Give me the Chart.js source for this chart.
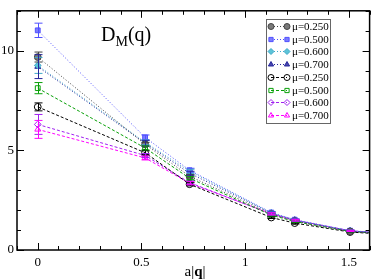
<!DOCTYPE html>
<html>
<head>
<meta charset="utf-8">
<script src="https://cdn.jsdelivr.net/npm/chart.js@4/dist/chart.umd.min.js"></script>
<style>
  html, body { margin: 0; padding: 0; background: #fff; }
  #wrap { width: 374px; height: 280px; }
</style>
</head>
<body>
<div id="wrap"><canvas id="c" width="374" height="280"></canvas></div>
<script>
// D_M(q) vs a|q|

// ==================== DATA ====================
const qValues = [0, 0.5176, 0.732, 1.126, 1.239, 1.506, 1.732];
const xTicks = [0, 0.5, 1, 1.5];
const yTicks = [0, 5, 10];
const labels = ['μ=0.250', 'μ=0.500', 'μ=0.600', 'μ=0.700', 'μ=0.250', 'μ=0.500', 'μ=0.600', 'μ=0.700'];

const filled250 = [9.68, 5.30, 3.70, 1.80, 1.45, 0.93, 0.78];
const filled500 = [11.02, 5.65, 4.00, 1.88, 1.52, 0.97, 0.80];
const filled600 = [9.26, 5.40, 3.95, 1.86, 1.50, 0.96, 0.80];
const filled700 = [9.20, 5.36, 3.85, 1.85, 1.50, 0.96, 0.80];
const open250 = [7.18, 4.88, 3.30, 1.63, 1.35, 0.90, 0.75];
const open500 = [8.12, 5.12, 3.60, 1.75, 1.43, 0.93, 0.78];
const open600 = [6.30, 4.74, 3.38, 1.80, 1.48, 0.95, 0.80];
const open700 = [6.05, 4.62, 3.35, 1.82, 1.50, 0.96, 0.80];

const err250f = [0.25, 0.10, 0.08, 0.05, 0.04, 0.03, 0.03];
const err500f = [0.36, 0.12, 0.10, 0.05, 0.04, 0.03, 0.03];
const err600f = [0.40, 0.12, 0.10, 0.05, 0.04, 0.03, 0.03];
const err700f = [0.60, 0.14, 0.10, 0.05, 0.04, 0.03, 0.03];
const err250o = [0.20, 0.10, 0.08, 0.05, 0.04, 0.03, 0.03];
const err500o = [0.28, 0.10, 0.08, 0.05, 0.04, 0.03, 0.03];
const err600o = [0.50, 0.10, 0.08, 0.05, 0.04, 0.03, 0.03];
const err700o = [0.45, 0.10, 0.08, 0.05, 0.04, 0.03, 0.03];

const SERIF = '"Liberation Serif", "DejaVu Serif", serif';

function pts(vals, errs) {
    return vals.map((v, i) => ({ x: qValues[i], y: v, e: errs[i] }));
}

function series(label, vals, errs, style, line, fill, dash) {
    return {
        label, data: pts(vals, errs),
        borderColor: line, backgroundColor: fill,
        pointStyle: style, pointRadius: 3.4, pointHoverRadius: 3.4,
        pointBorderColor: line, pointBackgroundColor: fill, pointBorderWidth: 1,
        borderWidth: 1, borderDash: dash, tension: 0, fill: false
    };
}

const DOT = [1, 2];
const DASH = [3, 2];
const datasets = [
    series(labels[0], filled250, err250f, 'circle', '#444444', '#7a7a7a', DOT),
    series(labels[1], filled500, err500f, 'rect', '#5050ff', '#7c7cff', DOT),
    series(labels[2], filled600, err600f, 'rectRot', '#3fa8c8', '#5cc4d8', DOT),
    series(labels[3], filled700, err700f, 'triangle', '#26269a', '#4848b0', DOT),
    series(labels[4], open250, err250o, 'circle', '#000000', 'rgba(255,255,255,0)', DASH),
    series(labels[5], open500, err500o, 'rect', '#08a008', 'rgba(255,255,255,0)', DASH),
    series(labels[6], open600, err600o, 'rectRot', '#a020f0', 'rgba(255,255,255,0)', DASH),
    series(labels[7], open700, err700o, 'triangle', '#ff00ff', 'rgba(255,255,255,0)', DASH)
];

// ==================== PLUGIN: error bars, frame, ticks, titles, legend ====================
const decorations = {
    id: 'decorations',
    afterDatasetsDraw(chart) {
        const { ctx, chartArea: a, scales: { x, y } } = chart;
        ctx.save();
        ctx.beginPath(); ctx.rect(a.left, a.top, a.right - a.left, a.bottom - a.top); ctx.clip();
        ctx.lineWidth = 1;
        chart.data.datasets.forEach(ds => {
            ctx.strokeStyle = ds.borderColor;
            ds.data.forEach(p => {
                if (!p.e) return;
                const px = Math.round(x.getPixelForValue(p.x)) + 0.5;
                const y1 = y.getPixelForValue(p.y - p.e), y2 = y.getPixelForValue(p.y + p.e);
                ctx.beginPath();
                ctx.moveTo(px, y1); ctx.lineTo(px, y2);
                ctx.moveTo(px - 4, y1); ctx.lineTo(px + 4, y1);
                ctx.moveTo(px - 4, y2); ctx.lineTo(px + 4, y2);
                ctx.stroke();
            });
        });
        ctx.restore();
    },
    afterDraw(chart) {
        const { ctx, chartArea: a, scales: { x, y } } = chart;
        ctx.save();
        ctx.strokeStyle = '#000';
        ctx.lineWidth = 1;
        // minor + major ticks, all four sides
        for (let v = -0.1; v <= 1.6 + 1e-9; v += 0.1) {
            const px = Math.round(x.getPixelForValue(v)) + 0.5;
            const major = Math.abs(v * 2 - Math.round(v * 2)) < 1e-6;
            const len = major ? 7 : 4;
            ctx.beginPath();
            ctx.moveTo(px, a.bottom); ctx.lineTo(px, a.bottom - len);
            ctx.moveTo(px, a.top); ctx.lineTo(px, a.top + len);
            ctx.stroke();
        }
        for (let v = 0; v <= 12; v += 1) {
            const py = Math.round(y.getPixelForValue(v)) + 0.5;
            const len = v % 5 === 0 ? 7 : 4;
            ctx.beginPath();
            ctx.moveTo(a.left, py); ctx.lineTo(a.left + len, py);
            ctx.moveTo(a.right, py); ctx.lineTo(a.right - len, py);
            ctx.stroke();
        }
        // frame
        ctx.lineWidth = 1.5;
        ctx.strokeRect(a.left, a.top, a.right - a.left, a.bottom - a.top);

        // title D_M(q)
        ctx.fillStyle = '#000';
        ctx.textBaseline = 'alphabetic';
        ctx.textAlign = 'left';
        let tx = 101;
        ctx.font = '20px ' + SERIF;
        ctx.fillText('D', tx, 41); tx += ctx.measureText('D').width;
        ctx.font = '14px ' + SERIF;
        ctx.fillText('M', tx, 46); tx += ctx.measureText('M').width;
        ctx.font = '20px ' + SERIF;
        ctx.fillText('(q)', tx, 41);

        // x axis label a|q|
        const parts = [['a|', 'normal'], ['q', 'bold'], ['|', 'normal']];
        let w = 0;
        parts.forEach(([t, wt]) => { ctx.font = wt + ' 15px ' + SERIF; w += ctx.measureText(t).width; });
        let lx = 195 - w / 2;
        parts.forEach(([t, wt]) => { ctx.font = wt + ' 15px ' + SERIF; ctx.fillText(t, lx, 276); lx += ctx.measureText(t).width; });

        // legend
        const bx = 266, by = 19, bw = 64, bh = 104;
        ctx.fillStyle = '#fff';
        ctx.fillRect(bx, by, bw, bh);
        ctx.strokeStyle = '#666';
        ctx.lineWidth = 1;
        ctx.strokeRect(bx + 0.5, by + 0.5, bw, bh);
        ctx.font = '11px ' + SERIF;
        chart.data.datasets.forEach((ds, i) => {
            const ry = Math.round(by + 7 + i * 12.7) + 0.5;
            ctx.strokeStyle = ds.borderColor;
            ctx.setLineDash(ds.borderDash);
            ctx.beginPath(); ctx.moveTo(271, ry); ctx.lineTo(287, ry); ctx.stroke();
            ctx.setLineDash([]);
            [271, 287].forEach(mx => {
                ctx.fillStyle = ds.pointBackgroundColor;
                ctx.strokeStyle = ds.pointBorderColor;
                Chart.helpers.drawPoint(ctx, { pointStyle: ds.pointStyle, radius: 3, borderWidth: 1 }, mx, ry);
            });
            ctx.fillStyle = '#000';
            ctx.textBaseline = 'middle';
            ctx.fillText(ds.label, 292, ry + 1);
        });
        ctx.restore();
    }
};

// ==================== CHART ====================
new Chart(document.getElementById('c'), {
    type: 'line',
    data: { datasets },
    plugins: [decorations],
    options: {
        responsive: false, animation: false,
        layout: { padding: { top: 1, right: 1, left: 0, bottom: 0 } },
        plugins: { legend: { display: false }, tooltip: { enabled: false } },
        scales: {
            x: {
                type: 'linear', min: -0.1, max: 1.6,
                afterBuildTicks: s => { s.ticks = xTicks.map(v => ({ value: v })); },
                afterFit: s => { s.height = 30; },
                grid: { display: false, drawTicks: false },
                border: { display: false },
                ticks: { padding: 5, color: '#000', font: { family: SERIF, size: 13 }, maxRotation: 0, callback: v => String(v) }
            },
            y: {
                type: 'linear', min: 0, max: 12,
                afterBuildTicks: s => { s.ticks = yTicks.map(v => ({ value: v })); },
                afterFit: s => { s.width = 17; },
                grid: { display: false, drawTicks: false },
                border: { display: false },
                ticks: { padding: 3, color: '#000', font: { family: SERIF, size: 13 }, callback: v => String(v) }
            }
        }
    }
});
</script>
</body>
</html>
